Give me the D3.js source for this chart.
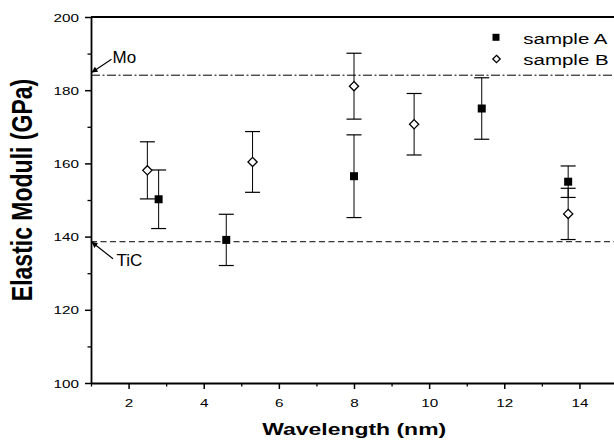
<!DOCTYPE html>
<html><head><meta charset="utf-8">
<script src="https://cdn.jsdelivr.net/npm/d3@7"></script>
<style>
body{margin:0;background:#fff}
text{font-family:"Liberation Sans",Arial,sans-serif;fill:#000}
</style></head>
<body><svg id="c" width="614" height="446"></svg>
<script>
// ---- data ----
const xA = [2.8, 4.6, 8.0, 11.4, 13.7];
const yA = [150.2, 139.1, 156.5, 175.0, 155.0];
const eA = [8.0, 7.0, 11.3, 8.4, 4.3];
const xB = [2.5, 5.3, 8.0, 9.6, 13.7];
const yB = [158.1, 160.4, 181.1, 170.7, 146.2];
const eB = [7.8, 8.3, 9.0, 8.4, 7.0];
const refNames = ["Mo", "TiC"];
const refValues = [184.1, 138.6];
const xTicks = [2, 4, 6, 8, 10, 12, 14];
const xMinor = [1, 3, 5, 7, 9, 11, 13, 15];
const yTicks = [100, 120, 140, 160, 180, 200];
const yMinor = [110, 130, 150, 170, 190];
const legendNames = ["sample A", "sample B"];

const SX = 1.33; // horizontal stretch of the original figure
const svg = d3.select("#c");
const x = d3.scaleLinear().domain([1, 15]).range([91, 617]);
const y = d3.scaleLinear().domain([100, 200]).range([383, 17]);

// reference lines
const dashes = ["9,2.5,2,2.5", "6,3.5"];
refValues.forEach((v, i) => {
  svg.append("line").attr("x1", x(1)).attr("x2", 614).attr("y1", y(v)).attr("y2", y(v))
    .attr("stroke", "#000").attr("stroke-width", 1).attr("stroke-dasharray", dashes[i]);
});

// axes
const gx = svg.append("g").attr("transform", `translate(0,${y(100)})`);
gx.call(d3.axisBottom(x).tickValues(xTicks).tickSize(6).tickSizeOuter(0).tickPadding(4));
gx.selectAll(".tick text").attr("font-size", 11.5).attr("y", 24).attr("dy", 0)
  .attr("transform", `scale(${SX},1)`).style("font-family", "Liberation Sans, Arial, sans-serif");
const gxm = svg.append("g").attr("transform", `translate(0,${y(100)})`);
gxm.call(d3.axisBottom(x).tickValues(xMinor).tickSize(3.5).tickFormat("").tickSizeOuter(0));
gxm.select(".domain").remove();

const gy = svg.append("g").attr("transform", `translate(${x(1)},0)`);
gy.call(d3.axisLeft(y).tickValues(yTicks).tickSize(6).tickSizeOuter(0));
gy.selectAll(".tick text").attr("font-size", 11.5).attr("x", 0).attr("dy", "0.35em")
  .attr("transform", `translate(-12,0) scale(${SX},1)`).style("font-family", "Liberation Sans, Arial, sans-serif");
const gym = svg.append("g").attr("transform", `translate(${x(1)},0)`);
gym.call(d3.axisLeft(y).tickValues(yMinor).tickSize(3.5).tickFormat("").tickSizeOuter(0));
gym.select(".domain").remove();
[gx, gy].forEach(g => { g.select(".domain").attr("stroke-width", 1.8); g.selectAll(".tick line").attr("stroke-width", 1.5); });
[gxm, gym].forEach(g => g.selectAll(".tick line").attr("stroke-width", 1.3));

// top frame
svg.append("line").attr("x1", x(1)).attr("x2", 614).attr("y1", y(200)).attr("y2", y(200))
  .attr("stroke", "#000").attr("stroke-width", 1.8);

// error bars + markers
function series(xs, ys, es, filled) {
  const g = svg.append("g");
  xs.forEach((xv, i) => {
    const cx = x(xv), top = y(ys[i] + es[i]), bot = y(ys[i] - es[i]);
    g.append("line").attr("x1", cx).attr("x2", cx).attr("y1", top).attr("y2", bot).attr("stroke", "#000").attr("stroke-width", 1);
    [top, bot].forEach(yy => g.append("line").attr("x1", cx - 7.5).attr("x2", cx + 7.5).attr("y1", yy).attr("y2", yy).attr("stroke", "#000").attr("stroke-width", 1.2));
  });
  xs.forEach((xv, i) => {
    const cx = x(xv), cy = y(ys[i]);
    if (filled) {
      g.append("rect").attr("x", cx - 4).attr("y", cy - 4).attr("width", 8).attr("height", 8).attr("fill", "#000");
    } else {
      g.append("path").attr("d", `M${cx},${cy - 4.6}L${cx + 4.6},${cy}L${cx},${cy + 4.6}L${cx - 4.6},${cy}Z`)
        .attr("fill", "#fff").attr("stroke", "#000").attr("stroke-width", 1.3);
    }
  });
}
series(xA, yA, eA, true);
series(xB, yB, eB, false);

// annotations
const defs = svg.append("defs");
defs.append("marker").attr("id", "ah").attr("viewBox", "0 0 10 10").attr("refX", 9).attr("refY", 5)
  .attr("markerWidth", 7).attr("markerHeight", 6).attr("orient", "auto").attr("markerUnits", "userSpaceOnUse")
  .append("path").attr("d", "M0,0L10,5L0,10Z").attr("fill", "#000");
// Mo
svg.append("line").attr("x1", x(1) + 20.5).attr("y1", y(refValues[0]) - 16).attr("x2", x(1) + 1).attr("y2", y(refValues[0]) - 3)
  .attr("stroke", "#000").attr("stroke-width", 1.2).attr("marker-end", "url(#ah)");
svg.append("text").attr("x", x(1) + 21.5).attr("y", y(refValues[0]) - 12).attr("font-size", 17).text(refNames[0]);
// TiC
svg.append("line").attr("x1", x(1) + 22).attr("y1", y(refValues[1]) + 17).attr("x2", x(1) + 1).attr("y2", y(refValues[1]) + 0.5)
  .attr("stroke", "#000").attr("stroke-width", 1.2).attr("marker-end", "url(#ah)");
svg.append("text").attr("x", x(1) + 25.5).attr("y", y(refValues[1]) + 24.5).attr("font-size", 17).text(refNames[1]);

// legend
const lg = svg.append("g");
lg.append("rect").attr("x", 496 - 3.5).attr("y", 37.3 - 3.5).attr("width", 7).attr("height", 7).attr("fill", "#000");
lg.append("path").attr("d", "M496.5,55.3L500.2,59L496.5,62.7L492.8,59Z").attr("fill", "#fff").attr("stroke", "#000").attr("stroke-width", 1.3);
legendNames.forEach((n, i) => {
  lg.append("text").attr("transform", `translate(523.3,${44 + i * 21.3}) scale(${SX},1)`).attr("font-size", 15.4).text(n);
});

// axis titles
svg.append("text").attr("transform", `translate(354.2,435) scale(1.335,1)`).attr("text-anchor", "middle")
  .attr("font-size", 17.2).attr("font-weight", "bold").text("Wavelength (nm)");
svg.append("text").attr("transform", `translate(31.5,190) scale(1.31,1) rotate(-90)`).attr("text-anchor", "middle")
  .attr("font-size", 23).attr("font-weight", "bold").text("Elastic Moduli (GPa)");
</script></body></html>
